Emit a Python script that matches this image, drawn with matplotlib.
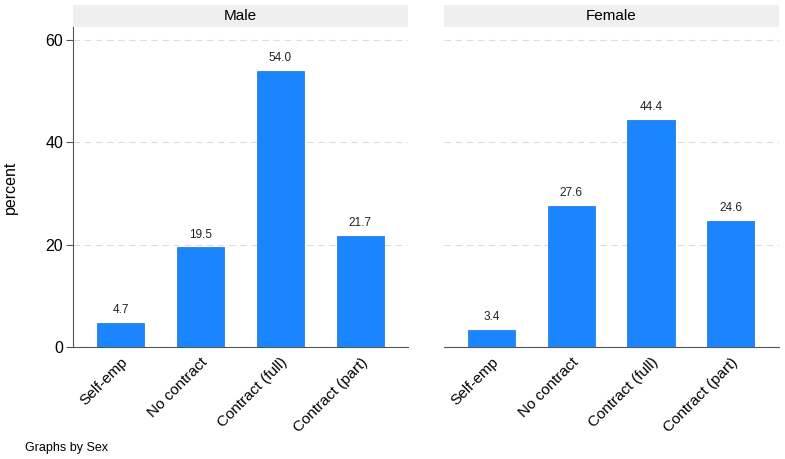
import matplotlib
matplotlib.use('Agg')
import matplotlib.pyplot as plt
from matplotlib.patches import Rectangle

# ── Data ──────────────────────────────────────────
categories = ['Self-emp', 'No contract', 'Contract (full)', 'Contract (part)']
panels     = ['Male', 'Female']
male       = [4.7, 19.5, 54.0, 21.7]
female     = [3.4, 27.6, 44.4, 24.6]
yticks     = [0, 20, 40, 60]

plt.rcParams['font.family'] = ['Liberation Sans', 'DejaVu Sans']

BAR   = '#1a85ff'
EDGE  = '#1670d8'
AXCOL = '#555555'

fig = plt.figure(figsize=(7.85, 4.59), dpi=100)
ax1 = fig.add_axes([0.093, 0.244, 0.427, 0.697])
ax2 = fig.add_axes([0.565, 0.244, 0.427, 0.697])

x = list(range(len(categories)))

for ax, title, vals in zip([ax1, ax2], panels, [male, female]):
    ax.bar(x, vals, width=0.59, color=BAR, edgecolor=EDGE, linewidth=0.5, zorder=3)
    for xi, v in zip(x, vals):
        ax.text(xi, v + 1.3, f'{v:.1f}', ha='center', va='bottom', fontsize=8.5, color='#222222')
    ax.set_xlim(-0.6, 3.6)
    ax.set_ylim(0, 62.5)
    ax.set_yticks(yticks)
    for t in yticks[1:]:
        ax.axhline(t, color='#dddddd', linestyle=(0, (6, 4)), linewidth=0.8, zorder=1)
    ax.set_xticks(x)
    ax.set_xticklabels(categories, rotation=45, ha='right', rotation_mode='anchor', fontsize=11)
    ax.tick_params(axis='x', length=0, pad=6)
    for s in ['top', 'right']:
        ax.spines[s].set_visible(False)
    ax.spines['bottom'].set_color(AXCOL)
    ax.spines['left'].set_color(AXCOL)
    # panel title strip
    ax.add_patch(Rectangle((0, 1.0), 1, 0.069, transform=ax.transAxes,
                           facecolor='#efefef', edgecolor='none', clip_on=False))
    ax.text(0.5, 1.0345, title, transform=ax.transAxes, ha='center', va='center', fontsize=11)

ax1.tick_params(axis='y', length=5, color=AXCOL, labelsize=11.5, pad=2)
ax1.set_ylabel('percent', fontsize=11.5, labelpad=20)

ax2.spines['left'].set_visible(False)
ax2.tick_params(axis='y', length=0, labelleft=False)

fig.text(0.032, 0.017, 'Graphs by Sex', fontsize=9)

fig.savefig('out.png', dpi=100)
